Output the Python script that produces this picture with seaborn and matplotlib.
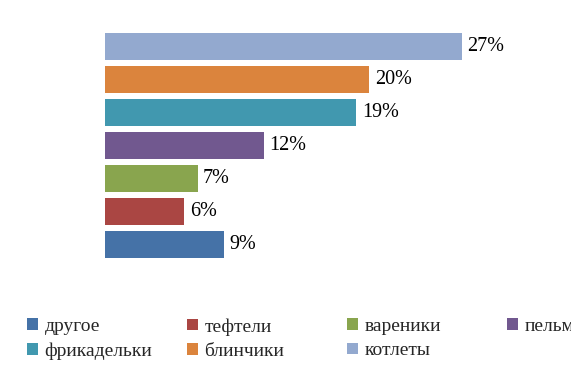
import matplotlib
matplotlib.use("Agg")
import matplotlib.pyplot as plt
from matplotlib.patches import Patch
import seaborn as sns
import pandas as pd

categories = ["другое", "тефтели", "вареники", "пельмени", "фрикадельки", "блинчики", "котлеты"]
values = [9, 6, 7, 12, 19, 20, 27]
colors = ["#4572A7", "#AA4643", "#89A54E", "#71588F", "#4198AF", "#DB843D", "#93A9CF"]

sns.set_theme(style="white")
plt.rcParams["font.family"] = ["Liberation Serif", "DejaVu Serif"]

df = pd.DataFrame({"cat": categories, "val": values})
order = categories[::-1]  # top to bottom
palette = dict(zip(categories, colors))

fig = plt.figure(figsize=(5.71, 3.87), dpi=100)
ax = fig.add_axes([105 / 571, (387 - 261) / 387, 396.7 / 571, 231 / 387])
sns.barplot(data=df, x="val", y="cat", hue="cat", order=order, hue_order=order,
            palette=palette, orient="h", width=0.8, legend=False, ax=ax,
            saturation=1, edgecolor="none")
ax.set_xlim(0, 30)
ax.set_ylim(6.5, -0.5)
for c in ax.containers:
    ax.bar_label(c, labels=[f"{v:.0f}%" for v in c.datavalues], padding=4,
                 fontsize=14.5, color="black")
ax.set_xlabel("")
ax.set_ylabel("")
ax.set_xticks([])
ax.set_yticks([])
for s in ax.spines.values():
    s.set_visible(False)

# legend: row-major, 4 equal-width columns
cols_x = [27, 187, 347, 507]
ncols = 4
for ci, x0 in enumerate(cols_x):
    idx = [i for i in range(len(categories)) if i % ncols == ci]
    handles = [Patch(facecolor=colors[i], edgecolor="none") for i in idx]
    labels = [categories[i] for i in idx]
    fig.legend(handles, labels, loc="upper left",
               bbox_to_anchor=(x0 / 571, 1 - 318 / 387),
               frameon=False, fontsize=14, handlelength=0.55, handleheight=0.55,
               handletextpad=0.35, labelspacing=0.38, borderpad=0, borderaxespad=0)

fig.savefig("out.png", dpi=100)
